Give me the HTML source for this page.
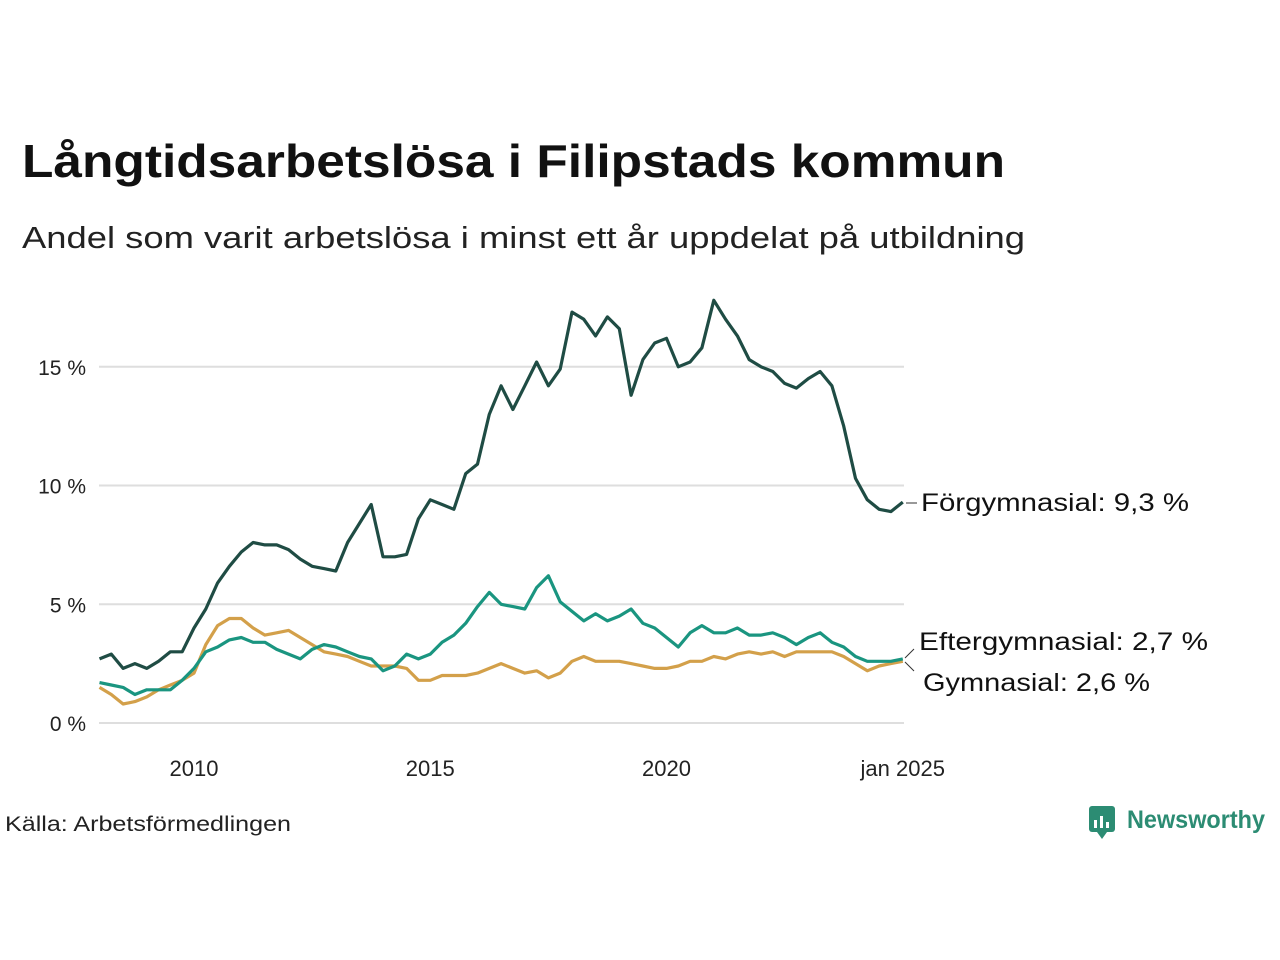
<!DOCTYPE html>
<html><head><meta charset="utf-8"><style>
body{margin:0;background:#fff;font-family:"Liberation Sans","DejaVu Sans",sans-serif;}
svg{display:block}
</style></head><body>
<svg width="1280" height="960">
<text x="22" y="177" font-size="46" font-weight="bold" fill="#111" textLength="983" lengthAdjust="spacingAndGlyphs">Långtidsarbetslösa i Filipstads kommun</text>
<text x="22" y="248" font-size="31" fill="#222" textLength="1003" lengthAdjust="spacingAndGlyphs">Andel som varit arbetslösa i minst ett år uppdelat på utbildning</text>
<g id="grid"></g>
<g id="yt"></g>
<g id="xt"></g>
<g id="lines"></g>
<g id="labels"></g>
<text x="5" y="831" font-size="21" fill="#222" textLength="286" lengthAdjust="spacingAndGlyphs">Källa: Arbetsförmedlingen</text>
<g>
<rect x="1089" y="806" width="26" height="26" rx="3" fill="#2c8c73"/>
<path d="M1097 832 L1102 839 L1107 832 Z" fill="#2c8c73"/>
<rect x="1094" y="820" width="3" height="8" fill="#fff"/><rect x="1100" y="816" width="3" height="12" fill="#fff"/><rect x="1106" y="822" width="3" height="6" fill="#fff"/>
<text x="1127" y="828" font-size="25" font-weight="bold" fill="#2c8c73" textLength="138" lengthAdjust="spacingAndGlyphs">Newsworthy</text>
</g>
</svg>
<script>
const yTicks=[0,5,10,15];
const xTickYears=[2010,2015,2020,2025];
const xTickLabels=["2010","2015","2020","jan 2025"];
const startYear=2008.0, step=0.25;
const forgym=[2.7,2.9,2.3,2.5,2.3,2.6,3.0,3.0,4.0,4.8,5.9,6.6,7.2,7.6,7.5,7.5,7.3,6.9,6.6,6.5,6.4,7.6,8.4,9.2,7.0,7.0,7.1,8.6,9.4,9.2,9.0,10.5,10.9,13.0,14.2,13.2,14.2,15.2,14.2,14.9,17.3,17.0,16.3,17.1,16.6,13.8,15.3,16.0,16.2,15.0,15.2,15.8,17.8,17.0,16.3,15.3,15.0,14.8,14.3,14.1,14.5,14.8,14.2,12.5,10.3,9.4,9.0,8.9,9.3];
const eftergym=[1.7,1.6,1.5,1.2,1.4,1.4,1.4,1.8,2.3,3.0,3.2,3.5,3.6,3.4,3.4,3.1,2.9,2.7,3.1,3.3,3.2,3.0,2.8,2.7,2.2,2.4,2.9,2.7,2.9,3.4,3.7,4.2,4.9,5.5,5.0,4.9,4.8,5.7,6.2,5.1,4.7,4.3,4.6,4.3,4.5,4.8,4.2,4.0,3.6,3.2,3.8,4.1,3.8,3.8,4.0,3.7,3.7,3.8,3.6,3.3,3.6,3.8,3.4,3.2,2.8,2.6,2.6,2.6,2.7];
const gym=[1.5,1.2,0.8,0.9,1.1,1.4,1.6,1.8,2.1,3.3,4.1,4.4,4.4,4.0,3.7,3.8,3.9,3.6,3.3,3.0,2.9,2.8,2.6,2.4,2.4,2.4,2.3,1.8,1.8,2.0,2.0,2.0,2.1,2.3,2.5,2.3,2.1,2.2,1.9,2.1,2.6,2.8,2.6,2.6,2.6,2.5,2.4,2.3,2.3,2.4,2.6,2.6,2.8,2.7,2.9,3.0,2.9,3.0,2.8,3.0,3.0,3.0,3.0,2.8,2.5,2.2,2.4,2.5,2.6];
const NS="http://www.w3.org/2000/svg";
const X=yr=>194+(yr-2010)*47.25;
const Y=v=>723-v*23.75;
function mk(tag,attrs,parent){const e=document.createElementNS(NS,tag);for(const k in attrs)e.setAttribute(k,attrs[k]);parent.appendChild(e);return e;}
const grid=document.getElementById('grid'),yt=document.getElementById('yt'),xt=document.getElementById('xt'),lines=document.getElementById('lines'),labels=document.getElementById('labels');
yTicks.forEach(t=>{
 const l=mk('line',{x1:99,x2:904,y1:Y(t),y2:Y(t),stroke:'#dedede','stroke-width':2},grid);
 
 
 const tx=mk('text',{x:86,y:Y(t)+8,'font-size':21,'text-anchor':'end',fill:'#222'},yt);
 tx.textContent=t+' %';
 
 
});
xTickYears.forEach((yr,i)=>{
 const tx=mk('text',{x:X(yr),y:776,'font-size':22,'text-anchor':'middle',fill:'#222'},xt);
 tx.textContent=xTickLabels[i];
 
 
});
function draw(arr,color,name){
 const d=arr.map((v,i)=>(i?'L':'M')+X(startYear+i*step).toFixed(1)+' '+Y(v).toFixed(1)).join(' ');
 const p=mk('path',{d:d,fill:'none',stroke:color,'stroke-width':3.2,'stroke-linejoin':'round'},lines);
 
 
}
draw(gym,'#d3a04a','line-gymnasial');
draw(eftergym,'#1a9580','line-eftergymnasial');
draw(forgym,'#1f4c44','line-forgymnasial');
const lab=[["Förgymnasial: 9,3 %",921,511,'label-forgymnasial',268],["Eftergymnasial: 2,7 %",919,650,'label-eftergymnasial',289],["Gymnasial: 2,6 %",923,691,'label-gymnasial',227]];
lab.forEach(a=>{
 const tx=mk('text',{x:a[1],y:a[2],'font-size':25,fill:'#111',textLength:a[4],lengthAdjust:'spacingAndGlyphs'},labels);
 tx.textContent=a[0];
 
 
});
mk('path',{d:'M906 503 L917 503 M914 649 L905 658 M905 662 L914 671',stroke:'#333','stroke-width':1,fill:'none'},labels);
</script>
</body></html>
